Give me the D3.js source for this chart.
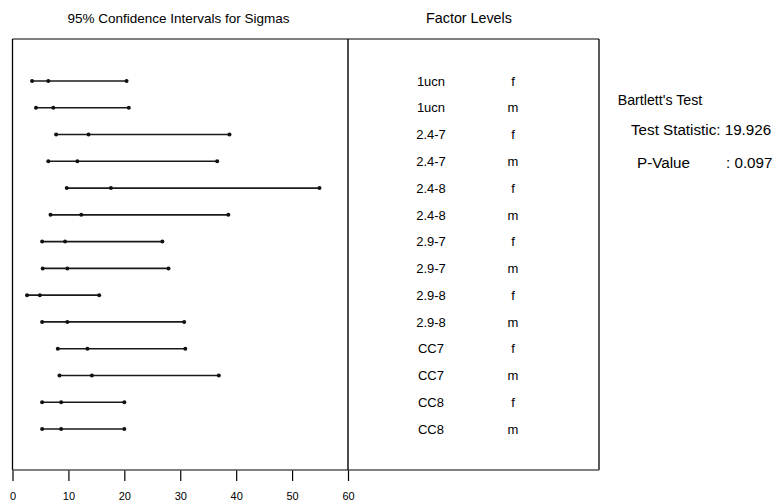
<!DOCTYPE html>
<html><head><meta charset="utf-8">
<script src="https://cdn.jsdelivr.net/npm/d3@7"></script>
<style>
html,body{margin:0;padding:0;background:#fff;}
svg{display:block;font-family:"Liberation Sans",Arial,sans-serif;}
</style></head>
<body>
<script>
const levels = ["1ucn","1ucn","2.4-7","2.4-7","2.4-8","2.4-8","2.9-7","2.9-7","2.9-8","2.9-8","CC7","CC7","CC8","CC8"];
const genders = ["f","m","f","m","f","m","f","m","f","m","f","m","f","m"];
const lower = [3.5,4.2,7.8,6.4,9.7,6.8,5.3,5.4,2.6,5.3,8.1,8.4,5.3,5.3];
const sigma = [6.4,7.3,13.6,11.6,17.6,12.3,9.4,9.8,4.9,9.8,13.4,14.2,8.7,8.7];
const upper = [20.4,20.8,38.8,36.6,54.9,38.6,26.8,27.9,15.5,30.7,30.9,36.9,20.0,20.0];
const xTicks = [0,10,20,30,40,50,60];
const leftTitle = "95% Confidence Intervals for Sigmas";
const rightTitle = "Factor Levels";
const testTitle = "Bartlett's Test";
const statLabel = "Test Statistic: 19.926";
const pLabel = "P-Value";
const pValue = ": 0.097";

const W = 779, H = 502;
const svg = d3.select("body").append("svg").attr("width", W).attr("height", H);

const plotL = 12.5, plotR = 348, plotT = 39, plotB = 470, boxR = 599;
const x = d3.scaleLinear().domain([0,60]).range([plotL, plotR]);
const idx = d3.range(levels.length);
const y = d3.scalePoint().domain(idx).range([81, 429]);

// titles
svg.append("text").attr("x", 178.5).attr("y", 23).attr("text-anchor","middle")
  .attr("font-size", 13.5).attr("fill","#000").text(leftTitle);
svg.append("text").attr("x", 469).attr("y", 23).attr("text-anchor","middle")
  .attr("font-size", 14.3).attr("fill","#000").text(rightTitle);

// frame
svg.append("line").attr("x1", plotL).attr("x2", boxR).attr("y1", plotT).attr("y2", plotT)
  .attr("stroke","#555").attr("stroke-width",1.6);
svg.append("line").attr("x1", plotL).attr("x2", plotL).attr("y1", plotT).attr("y2", plotB)
  .attr("stroke","#000").attr("stroke-width",1.3);
svg.append("line").attr("x1", boxR).attr("x2", boxR).attr("y1", plotT).attr("y2", plotB)
  .attr("stroke","#000").attr("stroke-width",1.3);

// axis
const axis = d3.axisBottom(x).tickValues(xTicks).tickSize(11).tickPadding(11).tickSizeOuter(0);
const gA = svg.append("g").attr("transform", `translate(0,${plotB})`).call(axis);
gA.select(".domain").remove();
gA.selectAll(".tick line").attr("stroke","#000").attr("stroke-width",1.2);
gA.selectAll(".tick text").attr("font-size", 11).attr("fill","#000")
  .attr("font-family","Liberation Sans, Arial, sans-serif");
svg.append("line").attr("x1", plotL).attr("x2", boxR).attr("y1", plotB).attr("y2", plotB)
  .attr("stroke","#555").attr("stroke-width",1.6);
// divider
svg.append("line").attr("x1", plotR).attr("x2", plotR).attr("y1", plotT).attr("y2", plotB)
  .attr("stroke","#000").attr("stroke-width",1.4);

// intervals
const g = svg.append("g");
g.selectAll("line.ci").data(idx).join("line").attr("class","ci")
  .attr("x1", i => x(lower[i])).attr("x2", i => x(upper[i]))
  .attr("y1", i => y(i)).attr("y2", i => y(i))
  .attr("stroke","#1a1a1a").attr("stroke-width",1.6);
[lower, sigma, upper].forEach(arr => {
  g.selectAll(null).data(idx).join("circle")
    .attr("cx", i => x(arr[i])).attr("cy", i => y(i)).attr("r", 2)
    .attr("fill","#111");
});

// factor labels
svg.selectAll("text.lev").data(idx).join("text").attr("class","lev")
  .attr("x", 431).attr("y", i => y(i)).attr("dy","0.36em").attr("text-anchor","middle")
  .attr("font-size", 13).attr("fill","#000").text(i => levels[i]);
svg.selectAll("text.gen").data(idx).join("text").attr("class","gen")
  .attr("x", 513).attr("y", i => y(i)).attr("dy","0.36em").attr("text-anchor","middle")
  .attr("font-size", 13).attr("fill","#000").text(i => genders[i]);

// Bartlett's test
svg.append("text").attr("x", 660).attr("y", 105).attr("text-anchor","middle")
  .attr("font-size", 14.2).attr("fill","#000").text(testTitle);
svg.append("text").attr("x", 631).attr("y", 135)
  .attr("font-size", 15.2).attr("fill","#000").text(statLabel);
svg.append("text").attr("x", 637).attr("y", 168)
  .attr("font-size", 15.2).attr("fill","#000").text(pLabel);
svg.append("text").attr("x", 726).attr("y", 168)
  .attr("font-size", 15.2).attr("fill","#000").text(pValue);
</script>
</body></html>
